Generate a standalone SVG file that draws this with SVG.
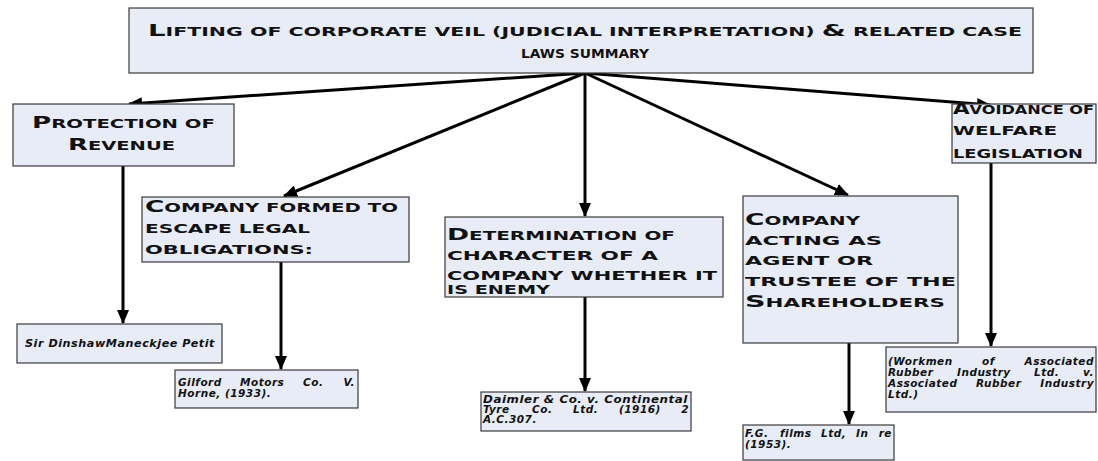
<svg xmlns="http://www.w3.org/2000/svg" width="1098" height="461" viewBox="0 0 1098 461">
<style>
.box{fill:#e7ecf7;stroke:#3a3a3a;stroke-width:1.2}
.h{font-family:"DejaVu Sans",sans-serif;font-weight:bold;text-transform:uppercase;font-size:12px;fill:#111}
.t{font-size:11.5px}
.cap{font-size:16px}
.tcap{font-size:15.5px}
.c{font-family:"DejaVu Sans",sans-serif;font-weight:bold;font-style:italic;font-size:10.5px;letter-spacing:0.5px;fill:#111}
.conn{stroke:#000;stroke-width:3;fill:none;marker-end:url(#ah)}
</style>
<defs>
<marker id="ah" markerUnits="userSpaceOnUse" markerWidth="14" markerHeight="12" refX="13" refY="6" orient="auto">
<path d="M0,0 L14,6 L0,12 Z" fill="#000"/>
</marker>
</defs>
<rect width="1098" height="461" fill="#fff"/>
<g id="connectors">
<line class="conn" x1="585" y1="73" x2="129" y2="104"/>
<line class="conn" x1="585" y1="73" x2="284" y2="196"/>
<line class="conn" x1="585" y1="73" x2="585" y2="216"/>
<line class="conn" x1="585" y1="73" x2="848" y2="195"/>
<line class="conn" x1="585" y1="73" x2="990" y2="105"/>
<line class="conn" x1="123" y1="166" x2="123" y2="323"/>
<line class="conn" x1="281" y1="262" x2="281" y2="369"/>
<line class="conn" x1="585" y1="297" x2="585" y2="391"/>
<line class="conn" x1="849" y1="343" x2="849" y2="424"/>
<line class="conn" x1="991" y1="163" x2="991" y2="346"/>
</g>
<g id="title">
<rect class="box" x="129" y="8" width="904" height="65"/>
<text class="h t" x="148" y="36" textLength="874" lengthAdjust="spacingAndGlyphs"><tspan class="tcap">L</tspan>ifting of corporate veil  (judicial interpretation) <tspan class="tcap">&amp;</tspan> related case</text>
<text class="h t" x="521" y="58" textLength="128" lengthAdjust="spacingAndGlyphs">laws summary</text>
</g>
<g id="protection">
<rect class="box" x="13" y="104" width="221" height="62"/>
<text class="h" x="32" y="128" textLength="183" lengthAdjust="spacingAndGlyphs"><tspan class="cap">P</tspan>rotection of</text>
<text class="h" x="68" y="150" textLength="107" lengthAdjust="spacingAndGlyphs"><tspan class="cap">R</tspan>evenue</text>
</g>
<g id="escape">
<rect class="box" x="142" y="197" width="267" height="65"/>
<text class="h" x="145" y="212" textLength="253" lengthAdjust="spacingAndGlyphs"><tspan class="cap">C</tspan>ompany formed to</text>
<text class="h" x="145" y="233" textLength="165" lengthAdjust="spacingAndGlyphs">escape legal</text>
<text class="h" x="145" y="254" textLength="168" lengthAdjust="spacingAndGlyphs">obligations:</text>
</g>
<g id="enemy">
<rect class="box" x="445" y="217" width="278" height="80"/>
<text class="h" x="447" y="240" textLength="228" lengthAdjust="spacingAndGlyphs"><tspan class="cap">D</tspan>etermination of</text>
<text class="h" x="447" y="260" textLength="211" lengthAdjust="spacingAndGlyphs">character of a</text>
<text class="h" x="447" y="280" textLength="270" lengthAdjust="spacingAndGlyphs">company whether it</text>
<text class="h" x="447" y="294" textLength="103" lengthAdjust="spacingAndGlyphs">is enemy</text>
</g>
<g id="agent">
<rect class="box" x="743" y="196" width="215" height="147"/>
<text class="h" x="745" y="225" textLength="115" lengthAdjust="spacingAndGlyphs"><tspan class="cap">C</tspan>ompany</text>
<text class="h" x="745" y="245" textLength="137" lengthAdjust="spacingAndGlyphs">acting as</text>
<text class="h" x="745" y="265" textLength="128" lengthAdjust="spacingAndGlyphs">agent or</text>
<text class="h" x="745" y="286" textLength="211" lengthAdjust="spacingAndGlyphs">trustee of the</text>
<text class="h" x="745" y="307" textLength="200" lengthAdjust="spacingAndGlyphs"><tspan class="cap">S</tspan>hareholders</text>
</g>
<g id="welfare">
<rect class="box" x="952" y="104" width="144" height="59"/>
<text class="h" x="953" y="114" textLength="141" lengthAdjust="spacingAndGlyphs"><tspan class="cap">A</tspan>voidance of</text>
<text class="h" x="953" y="135" textLength="104" lengthAdjust="spacingAndGlyphs">welfare</text>
<text class="h" x="953" y="158" textLength="130" lengthAdjust="spacingAndGlyphs">legislation</text>
</g>
<g id="dinshaw">
<rect class="box" x="17" y="324" width="205" height="39"/>
<text class="c" x="25" y="347" textLength="190" lengthAdjust="spacingAndGlyphs">Sir DinshawManeckjee Petit</text>
</g>
<g id="gilford">
<rect class="box" x="175" y="370" width="183" height="38"/>
<text class="c" y="386"><tspan x="178">Gilford</tspan><tspan x="240">Motors</tspan><tspan x="303">Co.</tspan><tspan x="355" text-anchor="end">V.</tspan></text>
<text class="c" x="178" y="397">Horne, (1933).</text>
</g>
<g id="daimler">
<rect class="box" x="481" y="392" width="210" height="39"/>
<text class="c" x="483" y="403" textLength="205" lengthAdjust="spacingAndGlyphs">Daimler &amp; Co. v. Continental</text>
<text class="c" y="413"><tspan x="483">Tyre</tspan><tspan x="532">Co.</tspan><tspan x="573">Ltd.</tspan><tspan x="619">(1916)</tspan><tspan x="689" text-anchor="end">2</tspan></text>
<text class="c" x="483" y="423">A.C.307.</text>
</g>
<g id="fgfilms">
<rect class="box" x="743" y="425" width="151" height="35"/>
<text class="c" y="437"><tspan x="745">F.G.</tspan><tspan x="780">films</tspan><tspan x="821">Ltd,</tspan><tspan x="856">In</tspan><tspan x="892" text-anchor="end">re</tspan></text>
<text class="c" x="745" y="448">(1953).</text>
</g>
<g id="workmen">
<rect class="box" x="886" y="347" width="210" height="65"/>
<text class="c" y="365"><tspan x="888">(Workmen</tspan><tspan x="982">of</tspan><tspan x="1094" text-anchor="end">Associated</tspan></text>
<text class="c" y="376"><tspan x="888">Rubber</tspan><tspan x="957">Industry</tspan><tspan x="1034">Ltd.</tspan><tspan x="1094" text-anchor="end">v.</tspan></text>
<text class="c" y="387"><tspan x="888">Associated</tspan><tspan x="976">Rubber</tspan><tspan x="1094" text-anchor="end">Industry</tspan></text>
<text class="c" x="888" y="398">Ltd.)</text>
</g>
</svg>
